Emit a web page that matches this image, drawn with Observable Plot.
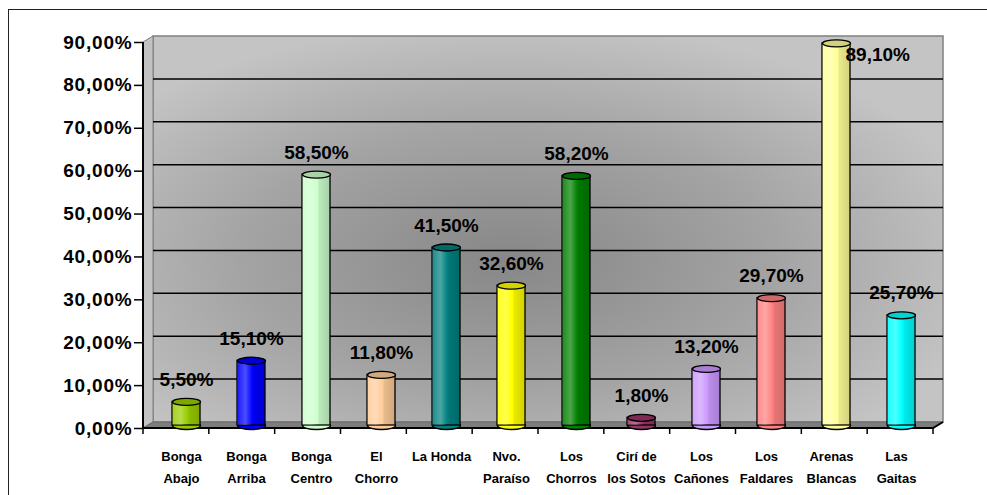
<!DOCTYPE html>
<html><head><meta charset="utf-8">
<script src="https://cdn.jsdelivr.net/npm/d3@7"></script>
<script src="https://cdn.jsdelivr.net/npm/@observablehq/plot@0.6"></script>
<style>body{margin:0;background:#fff;} #chart svg{display:block;}</style>
</head><body><div id="chart"></div>
<script>
const categories = ["Bonga\nAbajo","Bonga\nArriba","Bonga\nCentro","El\nChorro","La Honda","Nvo.\nParaíso","Los\nChorros","Cirí de\nlos Sotos","Los\nCañones","Los\nFaldares","Arenas\nBlancas","Las\nGaitas"];
const values = [5.5, 15.1, 58.5, 11.8, 41.5, 32.6, 58.2, 1.8, 13.2, 29.7, 89.1, 25.7];
const valueLabels = ["5,50%","15,10%","58,50%","11,80%","41,50%","32,60%","58,20%","1,80%","13,20%","29,70%","89,10%","25,70%"];
const yTicks = [0, 10, 20, 30, 40, 50, 60, 70, 80, 90];
const yTickLabels = ["0,00%","10,00%","20,00%","30,00%","40,00%","50,00%","60,00%","70,00%","80,00%","90,00%"];
const barColors = ["#99cc00","#0000ff","#ccffcc","#ffcc99","#008080","#ffff00","#008000","#993366","#cc99ff","#ff8080","#ffff99","#00ffff"];

const rows = categories.map((c, i) => ({cat: c, v: values[i], label: valueLabels[i], color: barColors[i], top: d3.color(barColors[i]).darker(0.55).formatHex()}));
const yMax = yTicks[yTicks.length - 1];
const FONT = "'Liberation Sans', Arial, sans-serif";
const DX = 10, DY = -6;          // depth of the 3D box
const BDX = 5, BDY = -3;         // bars sit in the middle of the depth

const ellipse = (w, h) => ({draw(ctx) {
  const a = w / 2, b = h / 2, k = 0.5523;
  ctx.moveTo(-a, 0);
  ctx.bezierCurveTo(-a, -b * k, -a * k, -b, 0, -b);
  ctx.bezierCurveTo(a * k, -b, a, -b * k, a, 0);
  ctx.bezierCurveTo(a, b * k, a * k, b, 0, b);
  ctx.bezierCurveTo(-a * k, b, -a, b * k, -a, 0);
  ctx.closePath();
}});

function walls(index, scales, values, dim) {
  const L = dim.marginLeft, R = dim.width - dim.marginRight, T = dim.marginTop, B = dim.height - dim.marginBottom;
  const ys = (t) => (typeof scales.y === "function" ? scales.y(t) : B - (t / yMax) * (B - T));
  const g = d3.create("svg:g");
  const defs = g.append("defs");
  const rg = defs.append("radialGradient").attr("id", "wallGrad").attr("cx", 0.45).attr("cy", 0.58).attr("r", 0.62);
  rg.append("stop").attr("offset", "0%").attr("stop-color", "#878787");
  rg.append("stop").attr("offset", "55%").attr("stop-color", "#a4a4a4");
  rg.append("stop").attr("offset", "100%").attr("stop-color", "#c4c4c4");
  const lg = defs.append("linearGradient").attr("id", "cylShade").attr("x1", 0).attr("x2", 1).attr("y1", 0).attr("y2", 0);
  [[0, "#fff", 0.1], [0.3, "#fff", 0.3], [0.55, "#fff", 0.0], [0.6, "#000", 0.08], [1, "#000", 0.18]].forEach(([o, c, op]) =>
    lg.append("stop").attr("offset", o).attr("stop-color", c).attr("stop-opacity", op));
  // outer border
  g.append("rect").attr("x", 8.5).attr("y", 9.5).attr("width", dim.width).attr("height", dim.height)
    .attr("fill", "none").attr("stroke", "#222");
  // back wall
  g.append("rect").attr("x", L + DX).attr("y", T + DY).attr("width", R - L).attr("height", B - T)
    .attr("fill", "url(#wallGrad)").attr("stroke", "#808080").attr("stroke-width", 1.5);
  // side wall
  g.append("path").attr("d", `M${L},${T}L${L + DX},${T + DY}L${L + DX},${B + DY}L${L},${B}Z`)
    .attr("fill", "#c2c2c2").attr("stroke", "#808080");
  // floor
  g.append("path").attr("d", `M${L},${B}L${L + DX},${B + DY}L${R + DX},${B + DY}L${R},${B}Z`)
    .attr("fill", "#7d7d7d").attr("stroke", "#6a6a6a");
  // gridlines on back wall
  for (const t of yTicks) {
    if (t <= 0 || t >= yMax) continue;
    const y = ys(t) + DY;
    g.append("line").attr("x1", L + DX).attr("x2", R + DX).attr("y1", y).attr("y2", y)
      .attr("stroke", "#000").attr("stroke-width", 1.5);
  }
  // axes lines
  g.append("line").attr("x1", L).attr("x2", L).attr("y1", T).attr("y2", B).attr("stroke", "#000").attr("stroke-width", 2);
  g.append("path").attr("d", `M${L},${B}L${R},${B}L${R + DX},${B + DY}`).attr("fill", "none").attr("stroke", "#000").attr("stroke-width", 2);
  const n = categories.length, step = (R - L) / n;
  for (let i = 0; i <= n; i++) {
    const x = L + i * step;
    g.append("line").attr("x1", x).attr("x2", x).attr("y1", B).attr("y2", B + 6).attr("stroke", "#000").attr("stroke-width", 1.5);
  }
  return g.node();
}

const high = (d) => d.v > yMax - 8;

const chart = Plot.plot({
  width: 987, height: 495,
  marginLeft: 143, marginRight: 54, marginTop: 42, marginBottom: 67,
  x: {domain: categories, paddingInner: 0.575, paddingOuter: 0.2875, axis: null},
  y: {domain: [0, yMax], label: null, axis: null},
  color: {type: "identity"},
  style: {fontFamily: FONT, background: "#fff", color: "#000", overflow: "visible"},
  marks: [
    walls,
    Plot.axisY(yTicks, {tickFormat: (d) => yTickLabels[yTicks.indexOf(d)], tickSize: 9, tickPadding: 2,
      fontSize: 19, fontWeight: "bold", strokeWidth: 1.5, label: null}),
    Plot.dot(rows, {x: "cat", y: 0, symbol: ellipse(28, 8), r: 5, fill: "color", stroke: "#000", strokeWidth: 1.3, dx: BDX, dy: BDY}),
    Plot.barY(rows, {x: "cat", y: "v", fill: "color", stroke: "#000", strokeWidth: 1.3, dx: BDX, dy: BDY}),
    Plot.barY(rows, {x: "cat", y: "v", fill: "url(#cylShade)", dx: BDX, dy: BDY}),
    Plot.dot(rows, {x: "cat", y: "v", symbol: ellipse(28, 7), r: 5, fill: "top", stroke: "#000", strokeWidth: 1.3, dx: BDX, dy: BDY}),
    Plot.text(rows.filter((d) => !high(d)), {x: "cat", y: "v", text: "label", dx: BDX, dy: -25,
      fontSize: 19, fontWeight: "bold", fill: "#000", ariaLabel: "vl"}),
    Plot.text(rows.filter(high), {x: "cat", y: "v", text: "label", dx: 14, dy: 9, textAnchor: "start",
      fontSize: 19, fontWeight: "bold", fill: "#000", ariaLabel: "vl"}),
    Plot.text(rows, {x: "cat", y: 0, text: "cat", dy: 16.5, lineAnchor: "top", lineHeight: 1.69,
      fontSize: 13, fontWeight: "bold", fill: "#000"})
  ]
});
document.getElementById("chart").appendChild(chart);
d3.select(chart).selectAll('g[aria-label="y-axis tick label"] text, g[aria-label="vl"] text').attr("letter-spacing", "0.8px");
</script>
</body></html>
